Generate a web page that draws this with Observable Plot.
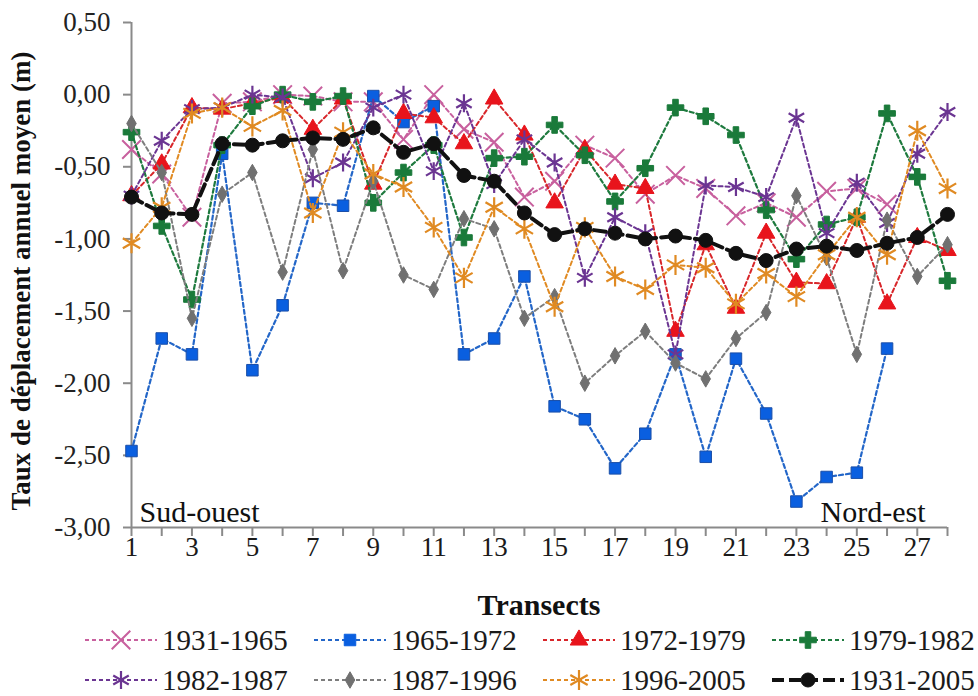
<!DOCTYPE html>
<html>
<head>
<meta charset="utf-8">
<script src="https://cdn.jsdelivr.net/npm/d3@7"></script>
<script src="https://cdn.jsdelivr.net/npm/@observablehq/plot@0.6"></script>
<style>
  body { margin: 0; background: #fff; font-family: "Liberation Serif", "Times New Roman", serif; }
  #xlabel { width: 978px; box-sizing: border-box; padding-left: 131px; padding-right: 31px; text-align: center;
            font-weight: bold; font-size: 30px; line-height: 30px; margin-top: 10px; color: #111; }
  #legend { display: grid; grid-template-columns: repeat(4, 229px); margin-left: 83px; }
  .item { display: flex; align-items: center; height: 40px; font-size: 29px; color: #1a1a1a; white-space: nowrap; }
  .item svg { margin-right: 3px; flex: none; }
</style>
</head>
<body>
<div id="chart"></div>
<div id="xlabel">Transects</div>
<div id="legend"></div>
<script>
const transects = [1,2,3,4,5,6,7,8,9,10,11,12,13,14,15,16,17,18,19,20,21,22,23,24,25,26,27,28];
const xTickLabels = [1,3,5,7,9,11,13,15,17,19,21,23,25,27];
const yTicks = [0.5,0,-0.5,-1,-1.5,-2,-2.5,-3];
const seriesNames = ["1931-1965","1965-1972","1972-1979","1979-1982","1982-1987","1987-1996","1996-2005","1931-2005"];

const s1931_1965 = [-0.38,-0.55,-0.85,-0.06,-0.05,0.00,-0.01,-0.05,-0.05,-0.31,0.00,-0.24,-0.33,-0.71,-0.60,-0.35,-0.44,-0.69,-0.56,-0.65,-0.84,-0.75,-0.85,-0.67,-0.65,-0.76,null,null];
const s1965_1972 = [-2.47,-1.69,-1.80,-0.41,-1.91,-1.46,-0.75,-0.77,-0.01,-0.19,-0.08,-1.80,-1.69,-1.26,-2.16,-2.25,-2.59,-2.35,-1.80,-2.51,-1.83,-2.21,-2.82,-2.65,-2.62,-1.76,null,null];
const s1972_1979 = [-0.70,-0.48,-0.09,-0.10,-0.06,-0.02,-0.24,-0.03,-0.62,-0.13,-0.16,-0.34,-0.03,-0.28,-0.75,-0.38,-0.62,-0.65,-1.64,-1.04,-1.48,-0.96,-1.30,-1.31,-0.85,-1.45,-0.99,-1.08];
const s1979_1982 = [-0.26,-0.91,-1.42,-0.35,-0.08,0.00,-0.05,-0.01,-0.75,-0.54,-0.35,-0.99,-0.44,-0.43,-0.21,-0.42,-0.74,-0.51,-0.09,-0.15,-0.28,-0.80,-1.14,-0.90,-0.85,-0.13,-0.57,-1.29];
const s1982_1987 = [-0.70,-0.32,-0.10,-0.09,0.00,-0.02,-0.58,-0.47,-0.09,0.00,-0.53,-0.06,-0.62,-0.31,-0.47,-1.27,-0.85,-0.96,-1.80,-0.63,-0.64,-0.71,-0.16,-0.96,-0.61,-0.89,-0.41,-0.12];
const s1987_1996 = [-0.20,-0.54,-1.55,-0.69,-0.54,-1.23,-0.38,-1.22,-0.60,-1.25,-1.35,-0.86,-0.93,-1.55,-1.40,-2.00,-1.81,-1.64,-1.86,-1.97,-1.69,-1.51,-0.70,-1.13,-1.80,-0.87,-1.26,-1.04];
const s1996_2005 = [-1.03,-0.78,-0.13,-0.09,-0.22,-0.11,-0.82,-0.26,-0.55,-0.64,-0.92,-1.27,-0.78,-0.93,-1.47,-0.92,-1.26,-1.35,-1.18,-1.20,-1.45,-1.24,-1.40,-1.11,-0.85,-1.11,-0.25,-0.65];
const s1931_2005 = [-0.71,-0.82,-0.83,-0.34,-0.35,-0.32,-0.30,-0.31,-0.23,-0.40,-0.34,-0.56,-0.60,-0.82,-0.97,-0.93,-0.96,-1.00,-0.98,-1.01,-1.10,-1.15,-1.07,-1.05,-1.08,-1.03,-0.99,-0.83];

const seriesValues = [s1931_1965, s1965_1972, s1972_1979, s1979_1982, s1982_1987, s1987_1996, s1996_2005, s1931_2005];

const styles = {
  "1931-1965": {color: "#c8609e", symbol: "times",    d3sym: d3.symbolTimes,    fill: "none",    r: 8.5, lw: 2,   dash: "4,3", sw: 2},
  "1965-1972": {color: "#2366c8", symbol: "square",   d3sym: d3.symbolSquare,   fill: "#0a5fe0", r: 6.5, lw: 2.2, dash: "4,3", sw: 1},
  "1972-1979": {color: "#d8262a", symbol: "triangle", d3sym: d3.symbolTriangle, fill: "#e8141c", r: 6.5, lw: 2,   dash: "4,3", sw: 1},
  "1979-1982": {color: "#1e7a3e", symbol: "cross",    d3sym: d3.symbolCross,    fill: "#1a7a3a", r: 7,   lw: 2.2, dash: "4,3", sw: 1},
  "1982-1987": {color: "#6b3592", symbol: "asterisk", d3sym: d3.symbolAsterisk, fill: "none",    r: 8.5, lw: 2,   dash: "4,3", sw: 2.2},
  "1987-1996": {color: "#7d7d7d", symbol: "diamond",  d3sym: d3.symbolDiamond,  fill: "#707070", r: 5,   lw: 2,   dash: "4,3", sw: 1},
  "1996-2005": {color: "#e08a22", symbol: "asterisk", d3sym: d3.symbolAsterisk, fill: "none",    r: 9.5, lw: 2,   dash: "4,3", sw: 2.2},
  "1931-2005": {color: "#111111", symbol: "circle",   d3sym: d3.symbolCircle,   fill: "#111111", r: 7,   lw: 4,   dash: "12,5", sw: 1}
};

const rows = seriesNames.flatMap((name, k) =>
  transects.map((t, i) => ({series: name, transect: t, value: seriesValues[k][i]}))
    .filter(d => d.value !== null)
);

const fmt = d => d.toFixed(2).replace(".", ",");

const marks = [
  Plot.ruleX([1], {stroke: "#8a8a8a", strokeWidth: 2}),
  Plot.ruleY([-3], {stroke: "#8a8a8a", strokeWidth: 2}),
  Plot.axisY({ticks: yTicks, tickSize: 8, tickPadding: 13, tickFormat: fmt, stroke: "#8a8a8a", strokeWidth: 2, fill: "#222", label: null}),
  Plot.axisX({ticks: transects, tickSize: 9, tickPadding: 0, tickFormat: d => (xTickLabels.includes(d) ? String(d) : ""), stroke: "#8a8a8a", strokeWidth: 2, fill: "#1a1a1a", label: null}),
  Plot.text(["Taux de déplacement annuel moyen (m)"], {frameAnchor: "left", textAnchor: "middle", rotate: -90, dx: -110, dy: 6, fontWeight: "bold", fontSize: 27, fill: "#111"}),
  Plot.text(["Sud-ouest"], {frameAnchor: "bottom-left", textAnchor: "start", dx: 8, dy: -6, fontSize: 30, fill: "#111"}),
  Plot.text(["Nord-est"], {frameAnchor: "bottom-right", textAnchor: "end", dx: -22, dy: -6, fontSize: 30, fill: "#111"})
];

for (const name of seriesNames) {
  const st = styles[name];
  const data = rows.filter(d => d.series === name);
  marks.push(Plot.line(data, {x: "transect", y: "value", stroke: st.color, strokeWidth: st.lw, strokeDasharray: st.dash}));
  marks.push(Plot.dot(data, {x: "transect", y: "value", symbol: () => st.symbol, r: st.r,
    fill: st.fill === "none" ? "none" : st.fill, stroke: st.fill === "none" ? st.color : (name === "1965-1972" ? "#1b4fa8" : st.fill), strokeWidth: st.sw}));
}

const chart = Plot.plot({
  width: 978, height: 580,
  marginTop: 22, marginLeft: 131, marginRight: 31, marginBottom: 53,
  x: {type: "linear", domain: [1, 28]},
  y: {domain: [-3, 0.5]},
  symbol: {type: "identity"},
  style: {fontFamily: "'Liberation Serif', 'Times New Roman', serif", fontSize: "27px", background: "#fff", overflow: "visible"},
  marks
});
document.getElementById("chart").appendChild(chart);

// Legend
const legend = d3.select("#legend");
for (const name of seriesNames) {
  const st = styles[name];
  const item = legend.append("div").attr("class", "item");
  const svg = item.append("svg").attr("width", 76).attr("height", 24);
  svg.append("line").attr("x1", 2).attr("x2", 74).attr("y1", 12).attr("y2", 12)
    .attr("stroke", st.color).attr("stroke-width", st.lw).attr("stroke-dasharray", st.dash);
  svg.append("path").attr("transform", "translate(38,12)")
    .attr("d", d3.symbol(st.d3sym, Math.PI * st.r * st.r)())
    .attr("fill", st.fill).attr("stroke", st.fill === "none" ? st.color : st.fill).attr("stroke-width", st.sw);
  item.append("span").text(name);
}
</script>
</body>
</html>
